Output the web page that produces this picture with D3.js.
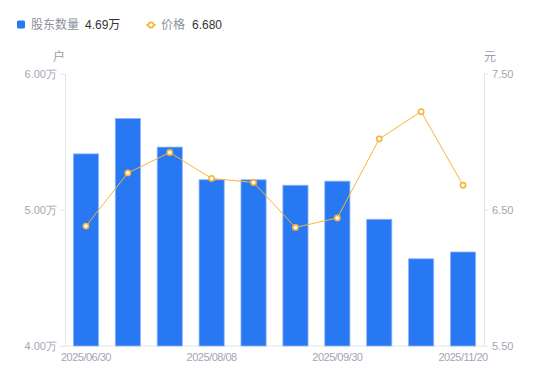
<!DOCTYPE html>
<html>
<head>
<meta charset="utf-8">
<script src="https://cdn.jsdelivr.net/npm/d3@7/dist/d3.min.js"></script>
<style>
  body { margin: 0; background: #fff; }
  svg { font-family: "Liberation Sans", "Noto Sans CJK SC", sans-serif; }
  .tick text { fill: #a3a6b4; }
</style>
</head>
<body>
<div id="chart"></div>
<script>
var dates = ['2025/06/30', '2025/07/10', '2025/07/31', '2025/08/08', '2025/08/20',
             '2025/08/31', '2025/09/30', '2025/10/20', '2025/10/31', '2025/11/20'];
var holders = [5.41, 5.67, 5.46, 5.22, 5.22, 5.18, 5.21, 4.93, 4.64, 4.69]; // 万户
var prices = [6.38, 6.77, 6.92, 6.73, 6.70, 6.37, 6.44, 7.02, 7.22, 6.68];
var leftTicks = [4, 5, 6];
var rightTicks = [5.5, 6.5, 7.5];
var shownDates = ['2025/06/30', '2025/08/08', '2025/09/30', '2025/11/20'];

var width = 550, height = 381;
var pad = {t: 73.5, r: 66, b: 35, l: 65};

var svg = d3.select('#chart').append('svg')
  .attr('width', width)
  .attr('height', height);

var x = d3.scaleBand().domain(dates)
  .range([pad.l, width - pad.r])
  .paddingInner(0.4).paddingOuter(0.2);
var yL = d3.scaleLinear().domain([4, 6]).range([height - pad.b, pad.t]);
var yR = d3.scaleLinear().domain([5.5, 7.5]).range([height - pad.b, pad.t]);

var axisColor = '#e3e5ea';

// axes
var gL = svg.append('g').attr('transform', 'translate(' + pad.l + ',0)')
  .call(d3.axisLeft(yL).tickValues(leftTicks).tickSize(5).tickSizeOuter(0).tickPadding(3)
    .tickFormat(function(d) { return d3.format('.2f')(d) + '万'; }));
var gR = svg.append('g').attr('transform', 'translate(' + (width - pad.r) + ',0)')
  .call(d3.axisRight(yR).tickValues(rightTicks).tickSize(4).tickSizeOuter(0).tickPadding(4)
    .tickFormat(d3.format('.2f')));
var gB = svg.append('g').attr('transform', 'translate(0,' + (height - pad.b) + ')')
  .call(d3.axisBottom(x).tickValues(shownDates).tickSize(0).tickSizeOuter(0).tickPadding(7));

[gL, gR, gB].forEach(function(g) {
  g.select('.domain').attr('stroke', axisColor);
  g.selectAll('.tick line').attr('stroke', axisColor);
  g.selectAll('.tick text').style('font-size', '11px').attr('fill', '#a3a6b4');
});
gB.selectAll('.tick text').style('letter-spacing', '-0.5px');
gB.select('.domain').attr('d', 'M' + pad.l + ',0H' + (width - pad.r));

// unit labels
svg.append('text').attr('x', 59).attr('y', 61).attr('text-anchor', 'middle')
  .style('font-size', '12px').attr('fill', '#9a9dab').text('户');
svg.append('text').attr('x', 490).attr('y', 61).attr('text-anchor', 'middle')
  .style('font-size', '12px').attr('fill', '#9a9dab').text('元');

// bars
svg.append('g').selectAll('rect')
  .data(holders)
  .enter()
  .append('rect')
  .attr('x', function(d, i) { return x(dates[i]); })
  .attr('y', function(d) { return yL(d); })
  .attr('width', x.bandwidth())
  .attr('height', function(d) { return yL(4) - yL(d); })
  .attr('fill', '#2878f4')
  .attr('stroke', '#8cb6f8')
  .attr('stroke-width', 0.8);

// price line
var line = d3.line()
  .x(function(d, i) { return x(dates[i]) + x.bandwidth() / 2; })
  .y(function(d) { return yR(d); });
svg.append('path')
  .datum(prices)
  .attr('d', line)
  .attr('fill', 'none')
  .attr('stroke', '#f9b43c')
  .attr('stroke-width', 1);
svg.append('g').selectAll('circle')
  .data(prices)
  .enter()
  .append('circle')
  .attr('cx', function(d, i) { return x(dates[i]) + x.bandwidth() / 2; })
  .attr('cy', function(d) { return yR(d); })
  .attr('r', 2.6)
  .attr('fill', '#fff')
  .attr('stroke', '#f9b43c')
  .attr('stroke-width', 1.6);

// legend
var lg = svg.append('g');
lg.append('rect').attr('x', 17).attr('y', 20.5).attr('width', 8).attr('height', 8)
  .attr('rx', 1.5).attr('fill', '#2878f4');
lg.append('text').attr('x', 31).attr('y', 29).style('font-size', '12px')
  .attr('fill', '#8c8f9c').text('股东数量');
lg.append('text').attr('x', 85).attr('y', 29).style('font-size', '12px')
  .attr('fill', '#333').text(d3.format('.2f')(holders[holders.length - 1]) + '万');
lg.append('line').attr('x1', 146).attr('x2', 156).attr('y1', 25).attr('y2', 25)
  .attr('stroke', '#f9b43c').attr('stroke-width', 1.5);
lg.append('circle').attr('cx', 151).attr('cy', 25).attr('r', 2.6)
  .attr('fill', '#fff').attr('stroke', '#f9b43c').attr('stroke-width', 1.6);
lg.append('text').attr('x', 161).attr('y', 29).style('font-size', '12px')
  .attr('fill', '#8c8f9c').text('价格');
lg.append('text').attr('x', 192).attr('y', 29).style('font-size', '12px')
  .attr('fill', '#333').text(d3.format('.3f')(prices[prices.length - 1]));
</script>
</body>
</html>
